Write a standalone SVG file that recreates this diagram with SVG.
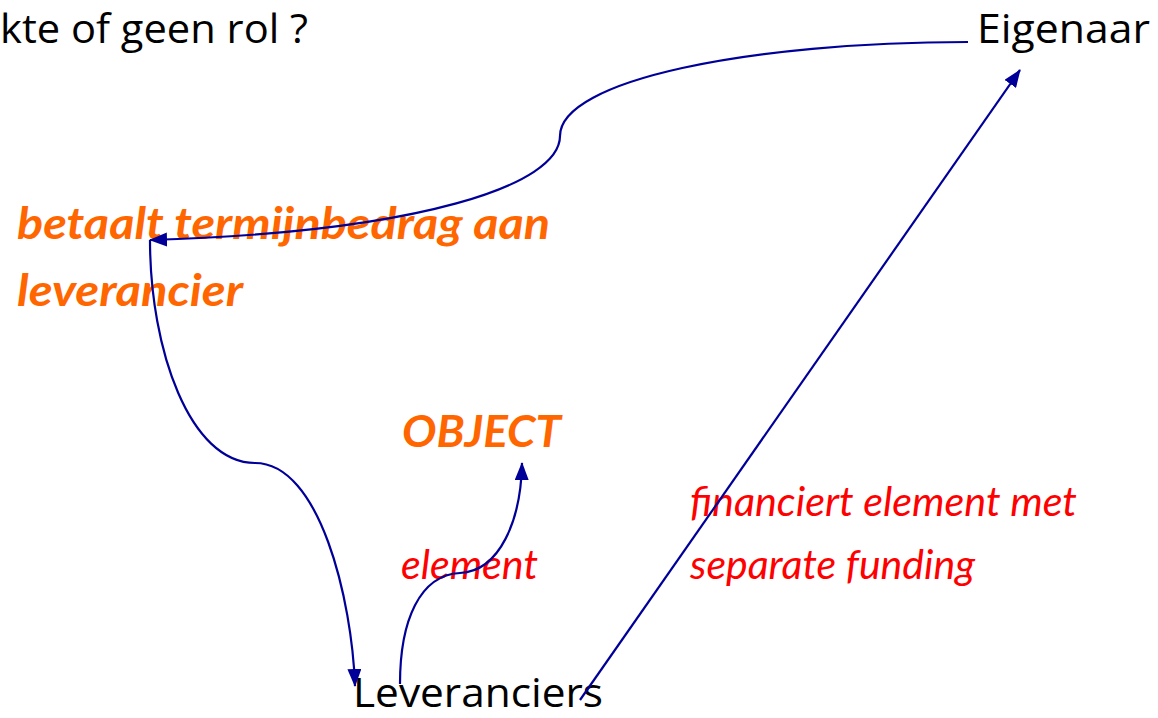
<svg xmlns="http://www.w3.org/2000/svg" width="1158" height="718" viewBox="0 0 1158 718">
<defs>
<style>
.blk{font-family:"Open Sans","Liberation Sans",sans-serif;font-size:41px;fill:#000}
.org{font-family:Lato,"Open Sans","Liberation Sans",sans-serif;font-size:44px;font-weight:bold;font-style:italic;fill:#FF6600}
.red{font-family:Lato,"Open Sans","Liberation Sans",sans-serif;font-size:40px;font-style:italic;fill:#FF0000}
.con{fill:none;stroke:#000099;stroke-width:2.2}
</style>
<marker id="ah" viewBox="0 0 18 14" refX="17" refY="7" markerWidth="18" markerHeight="14" markerUnits="userSpaceOnUse" orient="auto">
<path d="M0,0 L18,7 L0,14 Z" fill="#000099"/>
</marker>
</defs>
<rect width="1158" height="718" fill="#fff"/>
<g id="title"><text class="blk" x="0" y="43" textLength="308" lengthAdjust="spacingAndGlyphs">kte of geen rol ?</text></g>
<g id="eigenaar"><text class="blk" x="977" y="43" textLength="173" lengthAdjust="spacingAndGlyphs">Eigenaar</text></g>
<g id="betaalt"><text class="org" x="17" y="239" textLength="533" lengthAdjust="spacingAndGlyphs">betaalt termijnbedrag aan</text><text class="org" x="17" y="306" textLength="226" lengthAdjust="spacingAndGlyphs">leverancier</text></g>
<g id="object"><text class="org" x="402" y="447" textLength="159" lengthAdjust="spacingAndGlyphs">OBJECT</text></g>
<g id="element"><text class="red" x="401" y="579" textLength="137" lengthAdjust="spacingAndGlyphs">element</text></g>
<g id="financiert"><text class="red" x="690" y="516" textLength="387" lengthAdjust="spacingAndGlyphs">financiert element met</text><text class="red" x="690" y="579" textLength="285" lengthAdjust="spacingAndGlyphs">separate funding</text></g>
<g id="leveranciers"><text class="blk" x="353" y="707" style="font-size:40px" textLength="250" lengthAdjust="spacingAndGlyphs">Leveranciers</text></g>
<g id="connectors">
<path class="con" d="M968,42 C750,42 560,80 560,136 C560,185 420,232 150,240" marker-end="url(#ah)"/>
<path class="con" d="M150,240 C150,350 190,463 255,463 C320,463 352,600 355,686" marker-end="url(#ah)"/>
<path class="con" d="M400,684 C400,620 420,575 460,573 C500,571 521,520 522,463" marker-end="url(#ah)"/>
<path class="con" d="M580,700 L1020,70" marker-end="url(#ah)"/>
</g>
</svg>
